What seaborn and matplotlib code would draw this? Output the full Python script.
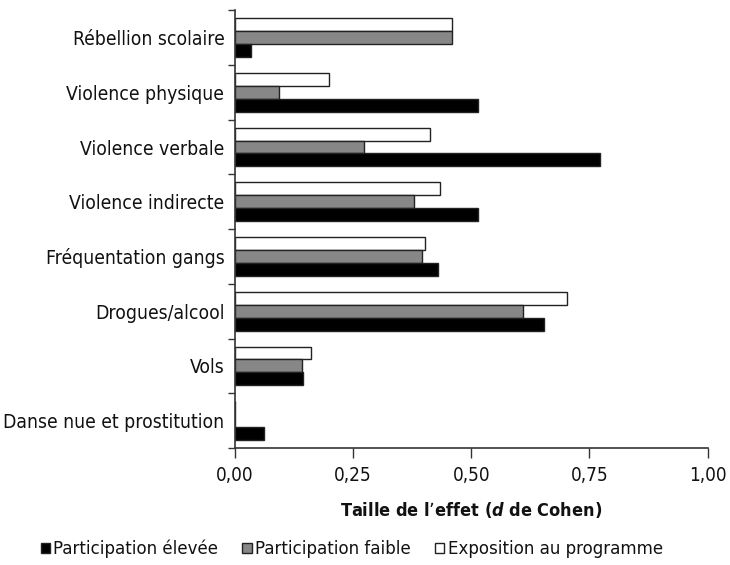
import pandas as pd
import matplotlib.pyplot as plt
import seaborn as sns
from matplotlib import font_manager
from matplotlib.patches import Patch
from matplotlib.ticker import FuncFormatter, FixedLocator

categories = ["Rébellion scolaire", "Violence physique", "Violence verbale",
              "Violence indirecte", "Fréquentation gangs", "Drogues/alcool",
              "Vols", "Danse nue et prostitution"]
participation_elevee = [0.034, 0.514, 0.772, 0.514, 0.430, 0.653, 0.144, 0.061]
participation_faible = [0.460, 0.094, 0.273, 0.378, 0.395, 0.610, 0.142, 0.0]
exposition = [0.460, 0.200, 0.412, 0.435, 0.403, 0.703, 0.161, 0.0]
series_names = ["Participation élevée", "Participation faible", "Exposition au programme"]
x_ticks = [0.0, 0.25, 0.5, 0.75, 1.0]

sns.set_style("white")

# pick a narrow face if one is installed, else shrink DejaVu
entries = font_manager.fontManager.ttflist
names = {f.name for f in entries}
dejavu_cond = any(f.name == "DejaVu Sans" and str(f.stretch) in ("condensed", "semi-condensed", "500")
                  for f in entries)
scale = 1.0
if "Liberation Sans Narrow" in names:
    plt.rcParams["font.family"] = ["Liberation Sans Narrow", "DejaVu Sans"]
    scale = 1.03
elif dejavu_cond:
    plt.rcParams["font.family"] = ["DejaVu Sans"]
    plt.rcParams["font.stretch"] = "condensed"
else:
    plt.rcParams["font.family"] = ["DejaVu Sans"]
    scale = 0.92

df = pd.DataFrame({
    "categorie": categories * 3,
    "serie": [series_names[0]] * 8 + [series_names[1]] * 8 + [series_names[2]] * 8,
    "valeur": participation_elevee + participation_faible + exposition,
})

colors = {series_names[0]: "#000000", series_names[1]: "#878787", series_names[2]: "#ffffff"}
draw_order = [series_names[2], series_names[1], series_names[0]]

fig = plt.figure(figsize=(7.3, 5.65), dpi=100)
ax = fig.add_axes([0.3215, 0.207, 0.648, 0.775])
sns.barplot(data=df, y="categorie", x="valeur", hue="serie", hue_order=draw_order,
            order=categories, palette=colors, orient="h", width=0.71, gap=0,
            edgecolor="#222222", linewidth=1.0, saturation=1, legend=False, ax=ax)

ax.set_xlim(0, 1.0)
ax.set_ylim(len(categories) - 0.5, -0.5)
ax.set_xticks(x_ticks)
ax.xaxis.set_major_formatter(FuncFormatter(lambda v, p: f"{v:.2f}".replace(".", ",")))
ax.tick_params(axis="x", bottom=True, length=7, width=1, color="#333333",
               labelsize=13.6 * scale, labelcolor="#111111", pad=6)
ax.tick_params(axis="y", left=False, labelsize=13.9 * scale, labelcolor="#111111", pad=4)
ax.yaxis.set_minor_locator(FixedLocator([i - 0.5 for i in range(len(categories) + 1)]))
ax.tick_params(axis="y", which="minor", left=True, length=5, width=1, color="#333333")

for side in ["top", "right"]:
    ax.spines[side].set_visible(False)
for side in ["left", "bottom"]:
    ax.spines[side].set_color("#333333")
    ax.spines[side].set_linewidth(1.2)

ax.set_ylabel("")
ax.set_xlabel(r"Taille de l’effet ($\mathbfit{d}$ de Cohen)", fontsize=13 * scale,
              fontweight="bold", color="#111111", labelpad=11)

handles = [Patch(facecolor=colors[s], edgecolor="#222222", linewidth=1.0) for s in series_names]
fig.legend(handles, series_names, loc="center", bbox_to_anchor=(0.482, 0.028), ncol=3,
           frameon=False, fontsize=13.3 * scale, handlelength=0.5, handleheight=0.5,
           handletextpad=0.2, columnspacing=1.3, labelcolor="#111111")

fig.savefig("out.png", dpi=100)
plt.close(fig)
